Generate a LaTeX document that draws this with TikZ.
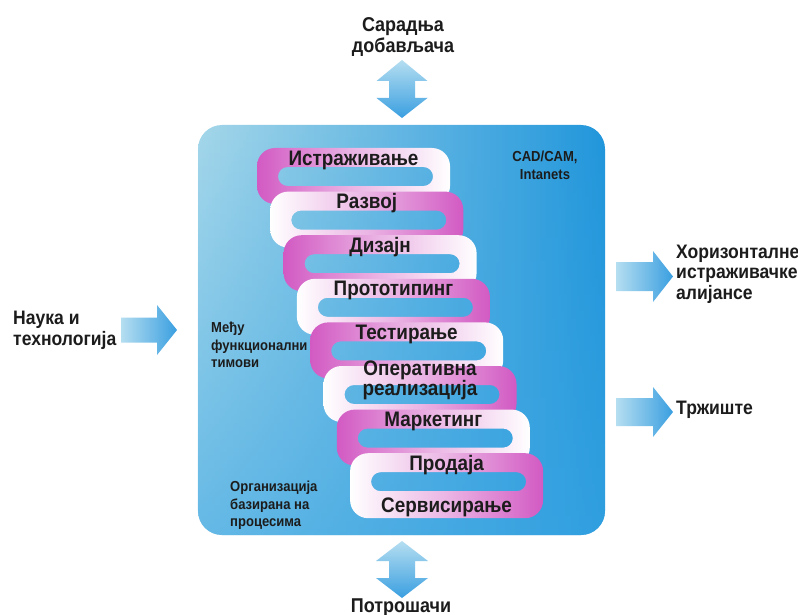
\documentclass[tikz,border=0pt]{standalone}
\usepackage{fontspec}
\newfontfamily\lbl{Liberation Sans}[FakeStretch=0.9]
\usetikzlibrary{fadings}
\definecolor{boxL}{HTML}{A5D7EA}
\definecolor{boxR}{HTML}{2196DB}
\definecolor{boxB}{HTML}{3AA5E3}
\definecolor{mag}{HTML}{D25AC3}
\definecolor{arrL}{HTML}{B5DEF1}
\definecolor{arrR}{HTML}{3A9FE0}
\definecolor{txt}{HTML}{1C1C1C}
\begin{document}
\begin{tikzpicture}[x=1pt,y=-1pt,
  lab/.style={font=\lbl\bfseries\fontsize{21}{15.5}\selectfont, text=txt, inner sep=0, align=center},
  side/.style={font=\lbl\bfseries\fontsize{19.5}{20.5}\selectfont, text=txt, inner sep=0, align=left},
  sidec/.style={font=\lbl\bfseries\fontsize{20}{21}\selectfont, text=txt, inner sep=0, align=center},
  small/.style={font=\lbl\bfseries\fontsize{14.5}{17.3}\selectfont, text=txt, inner sep=0, align=left},
  hshade/.style={left color=arrL, right color=arrR},
  vshade/.style={top color=arrL, bottom color=arrR},
]
\useasboundingbox (0,0) rectangle (798,615);
\fill[white] (0,0) rectangle (798,615);
% main box
\shade[left color=boxL, right color=boxR, rounded corners=24] (198,125) rectangle (605,535);
\fill[boxB, path fading=north, fill opacity=0.6, rounded corners=24] (198,125) rectangle (605,535);
% rings
\foreach \i in {0,...,7}{
  \pgfmathsetmacro\L{257+13.3*\i}
  \pgfmathsetmacro\T{148+43.6*\i}
  \pgfmathsetmacro\B{\T+(\i==7 ? 65 : 56)}
  \pgfmathsetmacro\R{\L+193}
  \pgfmathsetmacro\HL{\L+21}
  \pgfmathsetmacro\HR{\R-17}
  \pgfmathsetmacro\HT{\T+19}
  \pgfmathsetmacro\HB{\T+38}
  \ifodd\i
    \shade[even odd rule, left color=white, right color=mag, middle color=mag!45!white]
      [rounded corners=18] (\L,\T) rectangle (\R,\B)
      [rounded corners=9.5] (\HL,\HT) rectangle (\HR,\HB);
  \else
    \shade[even odd rule, left color=mag, right color=white, middle color=mag!45!white]
      [rounded corners=18] (\L,\T) rectangle (\R,\B)
      [rounded corners=9.5] (\HL,\HT) rectangle (\HR,\HB);
  \fi
}
% ring labels
\node[lab, anchor=base] (r1) at (353.5,166) {Истраживање};
\node[lab, anchor=base] (r2) at (366.8,208.6) {Развој};
\node[lab, anchor=base] (r3) at (380.1,252.2) {Дизајн};
\node[lab, anchor=base] (r4) at (393.4,295.8) {Прототипинг};
\node[lab, anchor=base] (r5) at (406.7,339.4) {Тестирање};
\node[lab, anchor=north] (r6) at (420,360.5) {Оперативна\\реализација};
\node[lab, anchor=base] (r7) at (433.3,426.6) {Маркетинг};
\node[lab, anchor=base] (r8) at (446.6,470.2) {Продаја};
\node[lab, anchor=base] (r9) at (446.6,512) {Сервисирање};
% inner notes
\node[small, align=center, anchor=north] (cad) at (545,151) {CAD/CAM,\\Intanets};
\node[small, anchor=north west] (tim) at (211,322) {Међу\\функционални\\тимови};
\node[small, anchor=north west] (org) at (230,481) {Организација\\базирана на\\процесима};
% arrows
\shade[vshade] (402,60) -- (427.5,81) -- (415,81) -- (415,98) -- (427.5,98) -- (402,118)
  -- (376.5,98) -- (389,98) -- (389,81) -- (376.5,81) -- cycle;
\shade[vshade] (402,541) -- (428,561) -- (415,561) -- (415,578) -- (428,578) -- (402,598)
  -- (376,578) -- (389,578) -- (389,561) -- (376,561) -- cycle;
\shade[hshade] (121,317.5) -- (157,317.5) -- (157,305) -- (177,330) -- (157,355)
  -- (157,342.5) -- (121,342.5) -- cycle;
\shade[hshade] (616,262) -- (653,262) -- (653,251) -- (673,276.5) -- (653,302)
  -- (653,291) -- (616,291) -- cycle;
\shade[hshade] (616,398) -- (653,398) -- (653,387) -- (673,412) -- (653,437)
  -- (653,426) -- (616,426) -- cycle;
% outer labels
\node[sidec, anchor=north] (sup) at (403,17) {Сарадња\\добављача};
\node[sidec, anchor=base] (cons) at (401,612) {Потрошачи};
\node[side, anchor=north west] (sci) at (13,311) {Наука и\\технологија};
\node[side, anchor=north west] (hor) at (676,244.5) {Хоризонталне\\истраживачке\\алијансе};
\node[side, anchor=north west] (mkt) at (676,400.5) {Тржиште};
\end{tikzpicture}
\end{document}
